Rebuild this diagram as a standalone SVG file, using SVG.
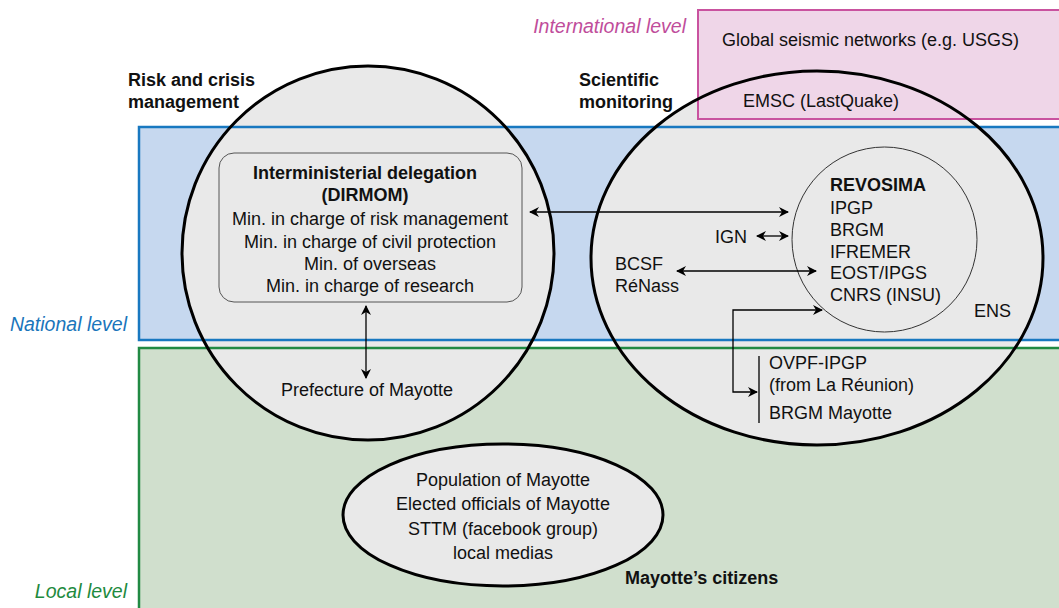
<svg xmlns="http://www.w3.org/2000/svg" width="1059" height="608" viewBox="0 0 1059 608">
<style>
text{font-family:"Liberation Sans",Arial,Helvetica,sans-serif;font-size:18px;fill:#111}
.b{font-weight:bold}
.c{text-anchor:middle}
.lvl{font-style:italic;font-size:19.5px;text-anchor:end}
.fillg{fill:#e9e9e9;stroke:none}
.outl{fill:none;stroke:#000;stroke-width:3}
.conn{fill:none;stroke:#000;stroke-width:1.3}
</style>
<defs>
<marker id="ah" viewBox="0 0 10 10" refX="9" refY="5" markerWidth="10" markerHeight="10" markerUnits="userSpaceOnUse" orient="auto-start-reverse">
<path d="M0,0 L10,5 L0,10 L3,5 Z" fill="#000"/>
</marker>
</defs>
<rect width="1059" height="608" fill="#fff"/>
<g id="bands-fill">
<rect x="139" y="127" width="930" height="213" fill="#c6d8ef"/>
<rect x="139" y="348" width="930" height="270" fill="#d0dfcd"/>
</g>
<g id="node-fills">
<ellipse class="fillg" cx="368" cy="253" rx="186" ry="187"/>
<ellipse class="fillg" cx="817" cy="258" rx="226" ry="187"/>
<ellipse class="fillg" cx="503" cy="515" rx="160" ry="71"/>
</g>
<g id="band-outlines">
<rect x="698" y="10" width="380" height="109" fill="#efd6e8" stroke="#c9529f" stroke-width="2"/>
<rect x="139" y="127" width="930" height="213" fill="none" stroke="#1878c0" stroke-width="2.5"/>
<rect x="139" y="348" width="930" height="270" fill="none" stroke="#218a43" stroke-width="2.5"/>
<text class="lvl" x="686" y="33" style="fill:#c04d9b">International level</text>
<text class="lvl" x="127" y="331" style="fill:#1a75bb">National level</text>
<text class="lvl" x="127" y="598" style="fill:#1e8a3e">Local level</text>
<text x="722" y="46">Global seismic networks (e.g. USGS)</text>
</g>
<g id="risk-management">
<ellipse class="outl" cx="368" cy="253" rx="186" ry="187"/>
<text class="b" x="128" y="86">Risk and crisis</text>
<text class="b" x="128" y="108">management</text>
<text class="c" x="367" y="396">Prefecture of Mayotte</text>
</g>
<g id="dirmom">
<rect x="219" y="153" width="303" height="149" rx="15" fill="#e9e9e9" stroke="#555" stroke-width="1"/>
<text class="b c" x="365" y="179">Interministerial delegation</text>
<text class="b c" x="365" y="201">(DIRMOM)</text>
<text class="c" x="370" y="225">Min. in charge of risk management</text>
<text class="c" x="370" y="248">Min. in charge of civil protection</text>
<text class="c" x="370" y="270">Min. of overseas</text>
<text class="c" x="370" y="292">Min. in charge of research</text>
</g>
<g id="scientific-monitoring">
<ellipse class="outl" cx="817" cy="258" rx="226" ry="187"/>
<text class="b" x="579" y="86">Scientific</text>
<text class="b" x="579" y="108">monitoring</text>
<text x="743" y="107">EMSC (LastQuake)</text>
<text x="715" y="243">IGN</text>
<text x="615" y="270">BCSF</text>
<text x="615" y="292">RéNass</text>
<text x="974" y="317">ENS</text>
<text x="769" y="369">OVPF-IPGP</text>
<text x="769" y="391">(from La Réunion)</text>
<text x="769" y="419">BRGM Mayotte</text>
<line x1="759" y1="356" x2="759" y2="423" stroke="#000" stroke-width="1.3"/>
</g>
<g id="revosima">
<circle cx="884.5" cy="239.5" r="92.5" fill="none" stroke="#333" stroke-width="1"/>
<text class="b" x="830" y="191">REVOSIMA</text>
<text x="830" y="214">IPGP</text>
<text x="830" y="236">BRGM</text>
<text x="830" y="258">IFREMER</text>
<text x="830" y="279">EOST/IPGS</text>
<text x="830" y="301">CNRS (INSU)</text>
</g>
<g id="citizens">
<ellipse class="outl" cx="503" cy="515" rx="160" ry="71"/>
<text class="c" x="503" y="486">Population of Mayotte</text>
<text class="c" x="503" y="510">Elected officials of Mayotte</text>
<text class="c" x="503" y="535">STTM (facebook group)</text>
<text class="c" x="503" y="559">local medias</text>
<text class="b" x="625" y="584">Mayotte’s citizens</text>
</g>
<g id="connectors">
<line class="conn" x1="530" y1="212" x2="788" y2="212" marker-start="url(#ah)" marker-end="url(#ah)"/>
<line class="conn" x1="757" y1="236" x2="788" y2="236" marker-start="url(#ah)" marker-end="url(#ah)"/>
<line class="conn" x1="677" y1="271" x2="816" y2="271" marker-start="url(#ah)" marker-end="url(#ah)"/>
<path class="conn" d="M822,310 H733 V392 H757" marker-start="url(#ah)" marker-end="url(#ah)"/>
<line class="conn" x1="366" y1="306" x2="366" y2="378" marker-start="url(#ah)" marker-end="url(#ah)"/>
</g>
</svg>
